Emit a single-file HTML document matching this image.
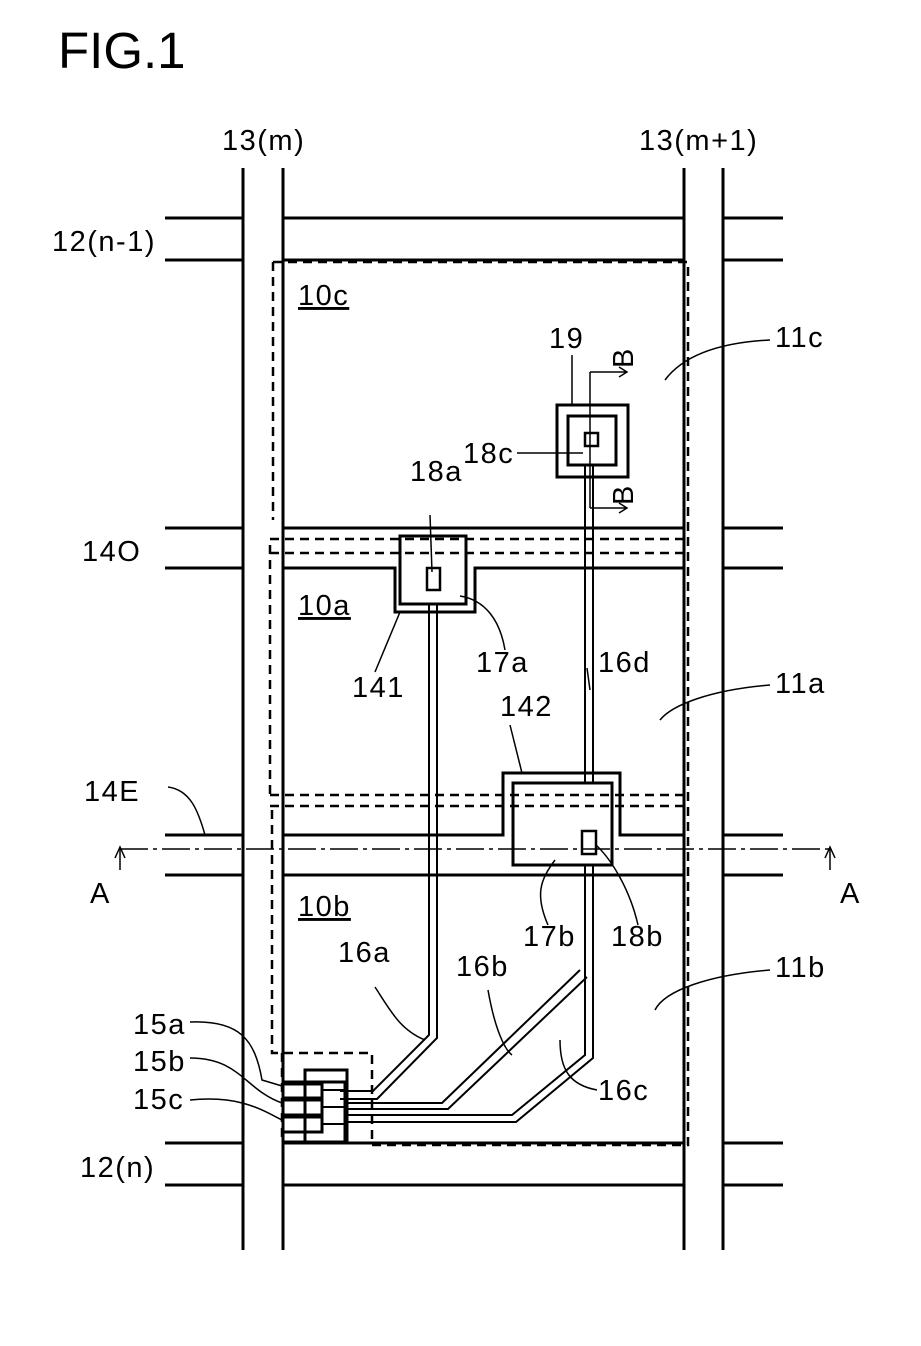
<!DOCTYPE html>
<html><head><meta charset="utf-8"><style>body{margin:0;background:#fff}svg{display:block}text{font-family:"Liberation Sans",sans-serif;font-size:29px;letter-spacing:1.5px;fill:#000}</style></head><body>
<svg width="921" height="1346" viewBox="0 0 921 1346">
<rect width="921" height="1346" fill="#fff"/>
<text x="58" y="68" style="font-size:51px;letter-spacing:0">FIG.1</text>
<g stroke="#000" stroke-width="3" fill="none">
<line x1="243" y1="168" x2="243" y2="1250"/><line x1="283" y1="168" x2="283" y2="1250"/>
<line x1="684" y1="168" x2="684" y2="1250"/><line x1="723" y1="168" x2="723" y2="1250"/>
<path d="M165 218H243M283 218H684M723 218H783M165 260H243M283 260H684M723 260H783"/>
<path d="M165 1143H243M283 1143H684M723 1143H783M165 1185H243M283 1185H684M723 1185H783"/>
<path d="M165 528H243M283 528H684M723 528H783M165 568H243M283 568H395V612H475V568H684M723 568H783"/>
<rect x="400" y="536" width="66" height="68"/>
<rect x="427" y="568" width="13" height="22" stroke-width="2.5"/>
<path d="M165 835H243M283 835H503V773H620V835H684M723 835H783M165 875H243M283 875H684M723 875H783"/>
<rect x="513" y="783" width="99" height="82" fill="#fff"/>
<rect x="582" y="831" width="14" height="23" stroke-width="2.5"/>
<rect x="557" y="405" width="71" height="72"/>
<rect x="568" y="416" width="48" height="49"/>
<rect x="585" y="433" width="13" height="13" stroke-width="2.5"/>
</g>
<g stroke="#000" stroke-width="2" fill="none">
<path d="M585 465V783M593 465V783"/>
<path d="M429 604V1035L373 1091H340M437 604V1038L377 1099H340"/>
<path d="M580 970L442 1103H345M587 977L448 1109H345"/>
<path d="M585 865V1055L512 1115H345M593 865V1058L516 1122H345"/>
<rect x="283" y="1082" width="62" height="60" stroke-width="3"/>
<rect x="305" y="1070" width="42" height="73" stroke-width="3"/>
<path d="M283 1084H322V1098H283M283 1100H322V1115H283M283 1117H322V1132H283" stroke-width="3"/>
<path d="M322 1090H345M322 1107H345M322 1124H345"/>
</g>
<g stroke="#000" stroke-width="2.5" fill="none" stroke-dasharray="9,6">
<path d="M273 262H688V1145H372V1053H272V805"/>
<path d="M273 262V520"/>
<path d="M270 545V800"/>
<path d="M270 539H684M270 553H684"/>
<path d="M270 795H684M270 806H684"/>
<path d="M282 1053V1143H372"/>
</g>
<g stroke="#000" stroke-width="1.5" fill="none">
<path d="M120 849H830" stroke-dasharray="28,5,4,5"/>
<path d="M120 870V849M830 870V849"/>
<path d="M115 858L120 847L125 858M825 858L830 847L835 858"/>
<path d="M590 372V508M590 372H627M590 508H627M619 367L627 372L619 377M619 503L627 508L619 513"/>
<path d="M770 340C710 343 680 360 665 380"/>
<path d="M770 685C710 690 672 705 660 720"/>
<path d="M770 970C710 975 665 990 655 1010"/>
<path d="M517 453H583"/><path d="M572 355L572 405"/>
<path d="M430 515L432 572"/>
<path d="M375 672L400 612"/><path d="M505 650C500 620 485 600 460 596"/>
<path d="M587 668L590 690"/><path d="M510 725L522 773"/>
<path d="M168 787C190 790 198 810 205 835"/>
<path d="M548 925C535 895 540 880 555 860"/><path d="M638 925C630 890 612 860 596 845"/>
<path d="M375 987C390 1010 400 1030 425 1040"/>
<path d="M488 990C495 1030 505 1050 512 1055"/>
<path d="M597 1090C570 1085 560 1070 560 1040"/>
<path d="M190 1022C240 1020 255 1040 262 1080L282 1086"/>
<path d="M190 1058C240 1058 245 1090 282 1103"/>
<path d="M190 1100C240 1095 262 1110 282 1120"/>
</g>
<g>
<text x="222" y="150">13(m)</text><text x="639" y="150">13(m+1)</text>
<text x="52" y="251">12(n-1)</text><text x="82" y="561">14O</text>
<text x="84" y="801">14E</text><text x="80" y="1177">12(n)</text>
<text x="90" y="903">A</text><text x="840" y="903">A</text>
<text x="298" y="305" text-decoration="underline">10c</text>
<text x="298" y="615" text-decoration="underline">10a</text>
<text x="298" y="916" text-decoration="underline">10b</text>
<text x="775" y="347">11c</text><text x="775" y="693">11a</text><text x="775" y="977">11b</text>
<text x="549" y="348">19</text><text x="463" y="463">18c</text>
<text x="410" y="481">18a</text><text x="352" y="697">141</text><text x="476" y="672">17a</text>
<text x="598" y="672">16d</text><text x="500" y="716">142</text>
<text x="523" y="946">17b</text><text x="611" y="946">18b</text>
<text x="338" y="962">16a</text><text x="456" y="976">16b</text><text x="598" y="1100">16c</text>
<text x="133" y="1034">15a</text><text x="133" y="1071">15b</text><text x="133" y="1109">15c</text>
<text x="0" y="0" transform="translate(633,368) rotate(-90)">B</text>
<text x="0" y="0" transform="translate(633,505) rotate(-90)">B</text>
</g>
</svg>
</body></html>
